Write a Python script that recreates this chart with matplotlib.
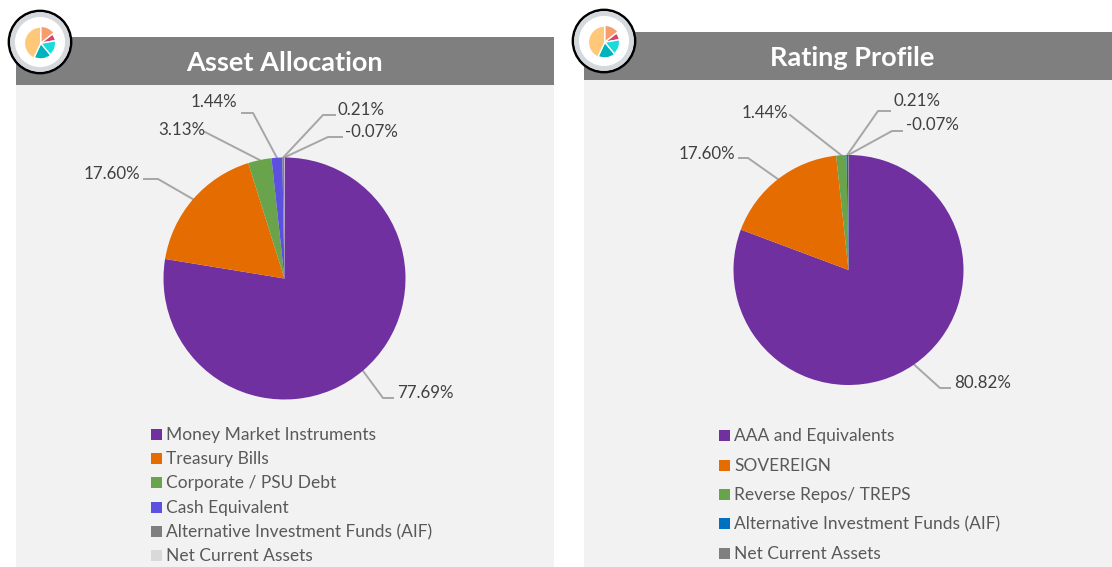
import numpy as np
import matplotlib
matplotlib.use('Agg')
import matplotlib.pyplot as plt
from matplotlib.patches import Rectangle, Circle

plt.rcParams['font.family'] = ['Lato', 'DejaVu Sans']

W, H = 1112, 567

# data
asset_names = ['Money Market Instruments', 'Treasury Bills', 'Corporate / PSU Debt',
               'Cash Equivalent', 'Alternative Investment Funds (AIF)', 'Net Current Assets']
asset_values = [77.69, 17.60, 3.13, 1.44, 0.21, -0.07]
asset_colors = ['#7030A0', '#E56C00', '#69A34C', '#5B50E0', '#7F7F7F', '#D9D9D9']

rating_names = ['AAA and Equivalents', 'SOVEREIGN', 'Reverse Repos/ TREPS',
                'Alternative Investment Funds (AIF)', 'Net Current Assets']
rating_values = [80.82, 17.60, 1.44, 0.21, -0.07]
rating_colors = ['#7030A0', '#E56C00', '#69A34C', '#0070C0', '#7F7F7F']

# little logo pie
icon_shares = [14.4, 7.8, 16.7, 18, 43]
icon_radii = [1.0, 0.88, 0.88, 0.92, 0.96]
icon_colors = ['#F79C6B', '#D6416E', '#1ADBDB', '#00B2BC', '#FEC878']


def px_axes(fig, cx, cy, r):
    # square axes centred on a pixel position, data units = radius
    return fig.add_axes([(cx - r) / W, 1 - (cy + r) / H, 2 * r / W, 2 * r / H])


def draw_icon(fig, ov, cx, cy):
    ov.add_patch(Circle((cx, cy), 31, fc='white', ec='black', lw=2, zorder=3))
    ov.add_patch(Circle((cx, cy), 27.5, fc='white', ec='#D5D8DC', lw=3.5, zorder=3))
    ax = px_axes(fig, cx + 0.7, cy + 1.3, 17)
    wedges, _ = ax.pie(icon_shares, colors=icon_colors, startangle=90, counterclock=False,
                       wedgeprops={'edgecolor': 'white', 'linewidth': 1.0})
    for w, rad in zip(wedges, icon_radii):
        w.set_radius(rad)
    ax.set_xlim(-1, 1)
    ax.set_ylim(-1, 1)


def draw_panel(fig, ov, box, title, title_x, names, values, colors, pie_c, pie_r,
               leaders, legend_x, legend_y, icon_c):
    x0, x1, top = box
    ov.add_patch(Rectangle((x0, top + 48), x1 - x0, H - top - 48, fc='#F2F2F2', ec='none'))
    ov.add_patch(Rectangle((x0, top), x1 - x0, 48, fc='#7F7F7F', ec='none'))
    ov.text(title_x, top + 26, title, color='white', fontsize=19.5, fontweight='bold',
            ha='center', va='center')

    # excel pies plot the size of a negative value
    ax = px_axes(fig, pie_c[0], pie_c[1], pie_r)
    wedges, _ = ax.pie(np.abs(values), colors=colors, startangle=90, counterclock=False)
    ax.set_xlim(-1, 1)
    ax.set_ylim(-1, 1)

    for w, v, (ex, ey, hx, tx, ty, ha) in zip(wedges, values, leaders):
        a = np.radians((w.theta1 + w.theta2) / 2)
        sx = pie_c[0] + pie_r * np.cos(a)
        sy = pie_c[1] - pie_r * np.sin(a)
        ov.plot([sx, ex, hx], [sy, ey, ey], color='#A6A6A6', lw=1.4, zorder=2)
        ov.text(tx, ty + 1, f'{v:.2f}%', color='#404040', fontsize=12.2, ha=ha, va='center', zorder=4)

    for name, c, y in zip(names, colors, legend_y):
        ov.add_patch(Rectangle((legend_x, y - 5.5), 11, 11, fc=c, ec='none'))
        ov.text(legend_x + 15, y + 1, name, color='#595959', fontsize=12.5, ha='left', va='center')

    draw_icon(fig, ov, icon_c[0], icon_c[1])


fig = plt.figure(figsize=(W / 100, H / 100), dpi=100, facecolor='white')
ov = fig.add_axes([0, 0, 1, 1])
ov.set_xlim(0, W)
ov.set_ylim(H, 0)
ov.axis('off')

# elbow x, elbow y, line end x, text x, text y, text align
asset_leaders = [(383, 398, 393, 397, 392, 'left'),
                 (158, 179, 144, 140, 173, 'right'),
                 (205, 132, 205, 205, 129, 'right'),
                 (253, 113, 242, 237, 101, 'right'),
                 (323, 115, 335, 338, 109, 'left'),
                 (328, 137, 342, 345, 131, 'left')]
rating_leaders = [(940, 388, 950, 954, 382, 'left'),
                  (748, 158, 739, 735, 153, 'right'),
                  (790, 115, 790, 788, 112, 'right'),
                  (878, 111, 890, 894, 100, 'left'),
                  (892, 131, 902, 906, 124, 'left')]

draw_panel(fig, ov, (16, 554, 37), 'Asset Allocation', 284.5, asset_names, asset_values,
           asset_colors, (284.5, 278.5), 121, asset_leaders, 151,
           [434, 458, 482, 507, 531, 555], (40, 42))
draw_panel(fig, ov, (584, 1112, 32), 'Rating Profile', 852.5, rating_names, rating_values,
           rating_colors, (848.5, 270), 115, rating_leaders, 719,
           [435, 465, 494, 523, 553], (604, 41))

fig.savefig('out.png', dpi=100)
